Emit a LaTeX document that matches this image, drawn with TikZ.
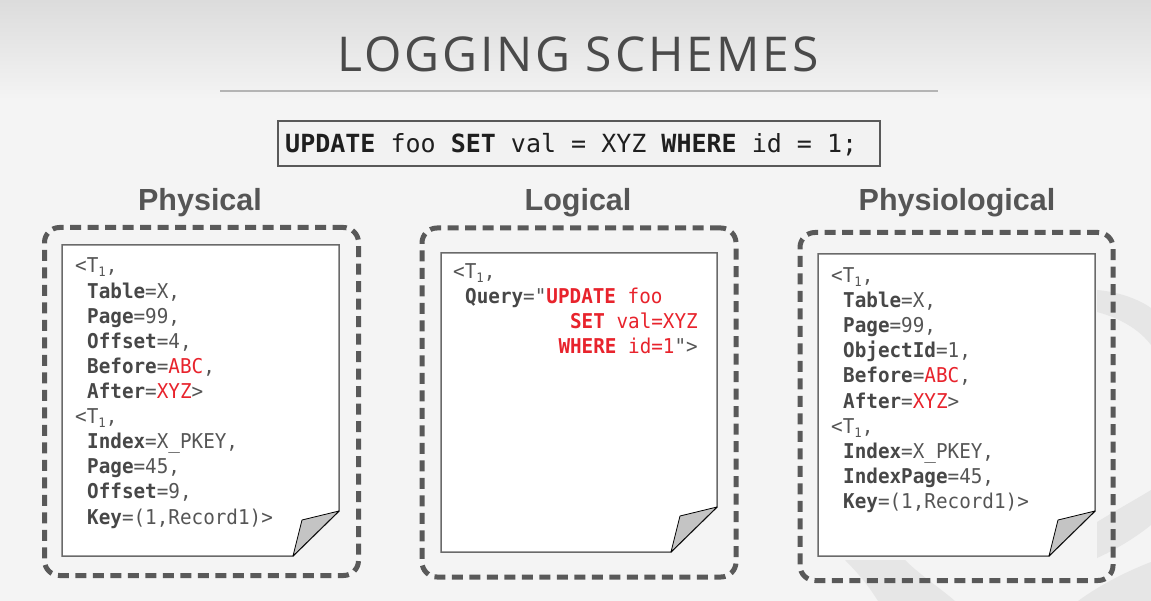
\documentclass[tikz,border=0pt]{standalone}
\usepackage{fontspec}
\setmainfont{Open Sans}
\newfontfamily\headfont{Liberation Sans}
\setmonofont{DejaVu Sans Mono}
\newfontfamily\recordfont[FakeStretch=0.945]{DejaVu Sans Mono}
\usetikzlibrary{calc}

\definecolor{bgtop}{HTML}{DCDCDC}
\definecolor{bgmain}{HTML}{F4F4F4}
\definecolor{titleink}{HTML}{4A4A4A}
\definecolor{rulegray}{HTML}{B4B4B4}
\definecolor{ink}{HTML}{555555}
\definecolor{keyink}{HTML}{474747}
\definecolor{hotred}{HTML}{E8232C}
\definecolor{framegray}{HTML}{595959}
\definecolor{pagegray}{HTML}{6A6A6A}
\definecolor{foldgray}{HTML}{C4C4C4}
\definecolor{swirl}{HTML}{E6E6E6}
\definecolor{sqlbg}{HTML}{F2F2F2}

% field names in bold, changed values in red
\newcommand{\fieldname}[1]{{\bfseries\color{keyink}#1}}
\newcommand{\redval}[1]{{\color{hotred}#1}}
\newcommand{\redkw}[1]{{\bfseries\color{hotred}#1}}
\newcommand{\txnid}{<T\raisebox{-4pt}{\fontsize{13}{13}\selectfont 1},}

% a sheet of paper with a folded bottom-right corner
\newcommand{\logpage}[5]{%
  \path[pagesheet] (#2,#3) -- (#4,#3) -- ({#4},{#5-45}) -- ({#4-46},{#5})
    -- (#2,#5) -- cycle;
  \path[pagefold] ({#4-46},{#5}) -- ({#4-37},{#5-36}) -- ({#4},{#5-45}) -- cycle;
  \coordinate (#1) at ({(#2+#4)/2},{(#3+#5)/2});
}

\tikzset{
  titletext/.style={font=\fontsize{48}{48}\selectfont\addfontfeatures{LetterSpace=6},
    text=titleink, inner sep=0},
  headtext/.style={font=\headfont\bfseries\fontsize{30.5}{30.5}\selectfont,
    text=ink, inner sep=0},
  sqlbox/.style={draw=framegray, line width=2pt, fill=sqlbg, inner sep=0},
  sqltext/.style={font=\ttfamily\fontsize{25}{25}\selectfont, text=black!88,
    inner sep=0, anchor=west},
  logframe/.style={draw=framegray, line width=5pt, dash pattern=on 11pt off 6.5pt,
    rounded corners=15pt, inner sep=0},
  pagesheet/.style={fill=white, draw=pagegray, line width=1.5pt},
  pagefold/.style={fill=foldgray, draw=black, line width=0.8pt, line join=round},
  logline/.style={font=\recordfont\fontsize{20.4}{20.4}\selectfont, text=ink,
    inner sep=0, anchor=base west},
  loglineR/.style={logline, anchor=base east},
}

\begin{document}
\begin{tikzpicture}[x=1pt,y=-1pt]
  \useasboundingbox (0,0) rectangle (1151,601);

  % backdrop
  \fill[bgmain] (0,0) rectangle (1151,601);
  \shade[top color=bgtop, bottom color=bgmain] (0,0) rectangle (1151,100);

  % faint swirl in the background
  \fill[swirl] (1097,290) .. controls (1120,292) and (1140,300) .. (1151,308)
    -- (1151,345) .. controls (1140,330) and (1120,318) .. (1097,312) -- cycle;
  \fill[swirl] (1097,522) .. controls (1120,508) and (1138,498) .. (1151,490)
    -- (1151,525) .. controls (1135,538) and (1115,550) .. (1097,558) -- cycle;
  \fill[swirl] (845,560) .. controls (860,575) and (870,588) .. (878,601)
    -- (955,601) .. controls (940,588) and (920,575) .. (905,560) -- cycle;
  \fill[swirl] (1078,601) .. controls (1100,585) and (1125,572) .. (1151,562)
    -- (1151,601) -- cycle;

  % heading
  \node[titletext] (title) at (578,54.5) {LOGGING SCHEMES};
  \coordinate (ruleL) at (220,91);
  \coordinate (ruleR) at (938,91);
  \draw[rulegray, line width=2pt] (ruleL) -- (ruleR);

  % the statement being logged
  \node[sqlbox, minimum width=602pt, minimum height=45pt] (sql) at (579,143.5) {};
  \node[sqltext] (sqlstmt) at (285,144.5)
    {\textbf{UPDATE} foo \textbf{SET} val = XYZ \textbf{WHERE} id = 1;};

  % column headings
  \node[headtext] (hphys) at (200,202.5) {Physical};
  \node[headtext] (hlog)  at (578,202.5) {Logical};
  \node[headtext] (hphy)  at (957,202.5) {Physiological};

  % dashed frames
  \node[logframe, minimum width=314pt, minimum height=348pt] (fphys) at (201.5,401.5) {};
  \node[logframe, minimum width=314pt, minimum height=349pt] (flog)  at (579,402.5) {};
  \node[logframe, minimum width=313pt, minimum height=348pt] (fphy)  at (956.5,406.5) {};

  % log pages
  \logpage{pphys}{62}{245}{339}{556}
  \logpage{plog}{441}{253}{717}{552}
  \logpage{pphy}{818}{254}{1095}{556}

  % physical log records
  \node[logline] (a1)  at (75,273)    {\txnid};
  \node[logline] (a2)  at (87,298.1)  {\fieldname{Table}=X,};
  \node[logline] (a3)  at (87,323.2)  {\fieldname{Page}=99,};
  \node[logline] (a4)  at (87,348.3)  {\fieldname{Offset}=4,};
  \node[logline] (a5)  at (87,373.4)  {\fieldname{Before}=\redval{ABC},};
  \node[logline] (a6)  at (87,398.5)  {\fieldname{After}=\redval{XYZ}>};
  \node[logline] (a7)  at (75,423.6)  {\txnid};
  \node[logline] (a8)  at (87,448.7)  {\fieldname{Index}=X\_PKEY,};
  \node[logline] (a9)  at (87,473.8)  {\fieldname{Page}=45,};
  \node[logline] (a10) at (87,498.9)  {\fieldname{Offset}=9,};
  \node[logline] (a11) at (87,524)    {\fieldname{Key}=(1,Record1)>};

  % logical log record
  \node[logline]  (b1) at (453,279) {\txnid};
  \node[logline]  (b2) at (465,304) {\fieldname{Query}="\redkw{UPDATE} \redval{foo}};
  \node[loglineR] (b3) at (698,329) {\redkw{SET} \redval{val=XYZ}};
  \node[loglineR] (b4) at (698,354) {\redkw{WHERE} \redval{id=1}">};

  % physiological log records
  \node[logline] (c1)  at (831,283)   {\txnid};
  \node[logline] (c2)  at (843,308)   {\fieldname{Table}=X,};
  \node[logline] (c3)  at (843,333)   {\fieldname{Page}=99,};
  \node[logline] (c4)  at (843,358)   {\fieldname{ObjectId}=1,};
  \node[logline] (c5)  at (843,383)   {\fieldname{Before}=\redval{ABC},};
  \node[logline] (c6)  at (843,408)   {\fieldname{After}=\redval{XYZ}>};
  \node[logline] (c7)  at (831,433)   {\txnid};
  \node[logline] (c8)  at (843,458)   {\fieldname{Index}=X\_PKEY,};
  \node[logline] (c9)  at (843,483)   {\fieldname{IndexPage}=45,};
  \node[logline] (c10) at (843,508)   {\fieldname{Key}=(1,Record1)>};
\end{tikzpicture}
\end{document}
